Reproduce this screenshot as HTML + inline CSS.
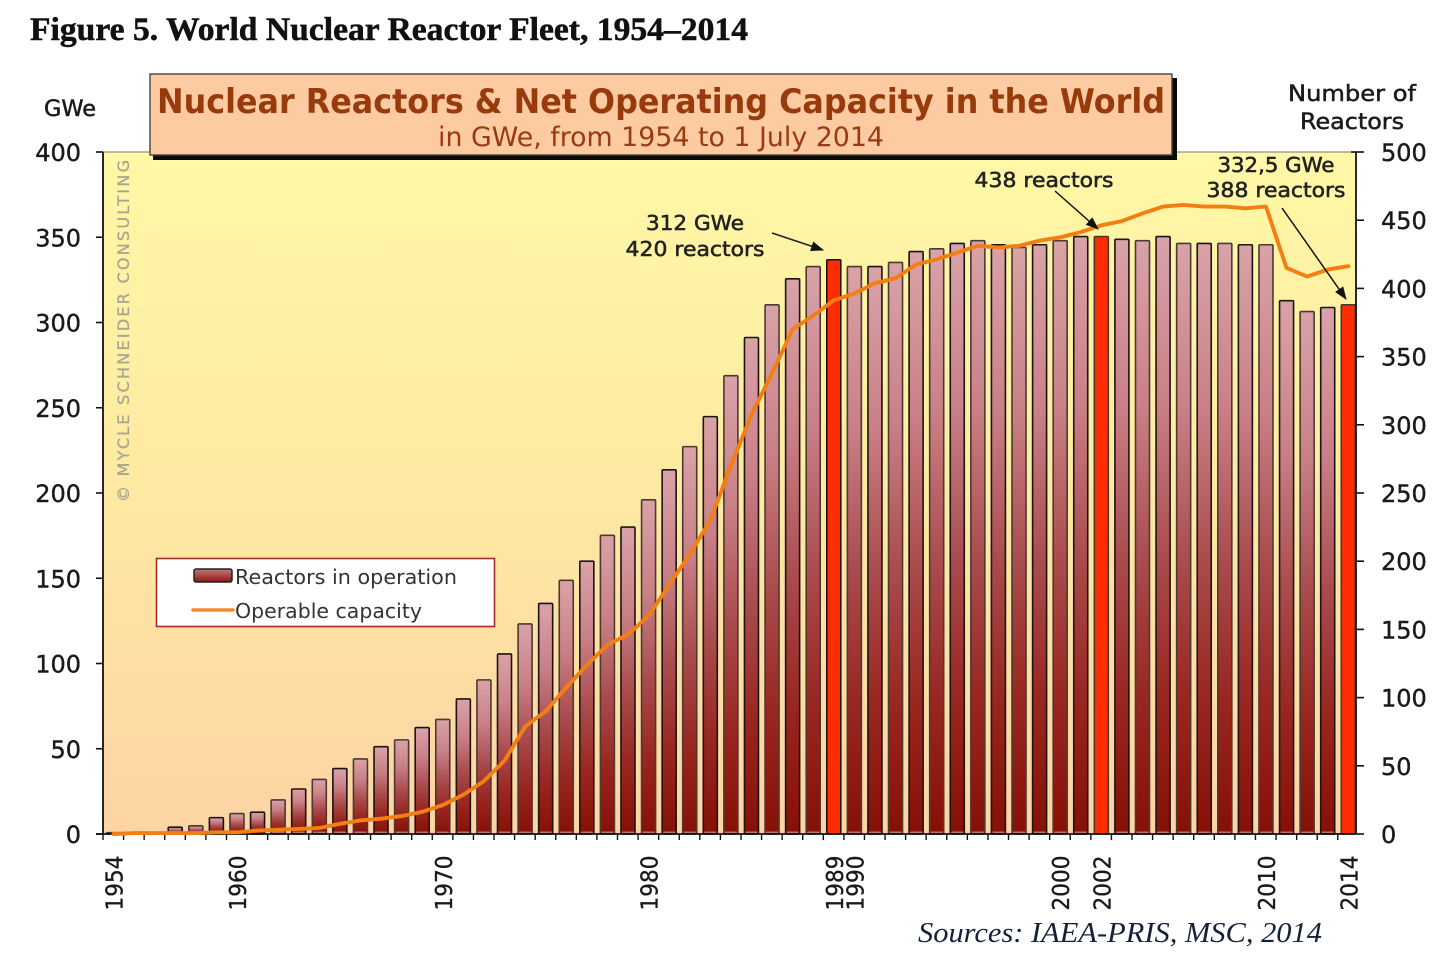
<!DOCTYPE html>
<html>
<head>
<meta charset="utf-8">
<title>World Nuclear Reactor Fleet, 1954–2014</title>
<style>
html,body{margin:0;padding:0;background:#fff;}
svg{display:block;}
text{font-family:"DejaVu Sans","Liberation Sans",sans-serif;fill:#1a1a1a;}
.serif{font-family:"Liberation Serif",serif;}
.note{font-size:20.5px;text-anchor:middle;fill:#222;stroke:#222;stroke-width:0.55px;}
.tick-label{font-size:24px;stroke:#1a1a1a;stroke-width:0.4px;}
.heavy{stroke:#1a1a1a;stroke-width:0.5px;}
</style>
</head>
<body>
<svg id="chart" width="1456" height="954" viewBox="0 0 1456 954" xmlns="http://www.w3.org/2000/svg">
<defs>
<linearGradient id="plotBg" x1="0" y1="0" x2="0" y2="1">
<stop offset="0" stop-color="#FFF8A6"/>
<stop offset="0.45" stop-color="#FEEBA2"/>
<stop offset="1" stop-color="#FDD3A4"/>
</linearGradient>
<linearGradient id="barFill" x1="0" y1="0" x2="0" y2="1">
<stop offset="0" stop-color="#D9A3A8"/>
<stop offset="0.28" stop-color="#C98087"/>
<stop offset="0.54" stop-color="#A94B4D"/>
<stop offset="0.77" stop-color="#992620"/>
<stop offset="1" stop-color="#871005"/>
</linearGradient>
<linearGradient id="swatchFill" x1="0" y1="0" x2="0" y2="1">
<stop offset="0" stop-color="#C4777A"/>
<stop offset="1" stop-color="#8A1A12"/>
</linearGradient>
<marker id="arrowHead" markerWidth="14" markerHeight="12" refX="12" refY="5" orient="auto" markerUnits="userSpaceOnUse">
<path d="M0,0 L13,5 L0,10 Z" fill="#111"/>
</marker>
</defs>

<text class="serif" x="30" y="40" font-size="32.5" font-weight="bold" style="fill:#111;stroke:#111;stroke-width:0.5px" textLength="718" lengthAdjust="spacingAndGlyphs">Figure 5. World Nuclear Reactor Fleet, 1954–2014</text>

<rect x="103" y="152" width="1253" height="682" fill="url(#plotBg)"/>
<line x1="103" y1="152" x2="1356" y2="152" stroke="#777" stroke-width="1"/>
<text transform="translate(129,502) rotate(-90)" font-size="16" style="fill:#a8a590;stroke:#a8a590;stroke-width:0.3px" textLength="342" lengthAdjust="spacing">© MYCLE SCHNEIDER CONSULTING</text>

<g id="bars"></g>
<g id="axes"></g>
<g id="lineLayer"></g>

<g>
<rect x="153" y="78" width="1024" height="82" fill="#0a0a0a"/>
<rect x="150" y="74" width="1022" height="81" fill="#FDCBA1" stroke="#444" stroke-width="1.4"/>
<text x="157" y="113" font-size="34" font-weight="bold" style="fill:#983A0C" textLength="1008" lengthAdjust="spacingAndGlyphs">Nuclear Reactors &amp; Net Operating Capacity in the World</text>
<text x="438" y="146" font-size="27" style="fill:#9A3A10" textLength="446" lengthAdjust="spacingAndGlyphs">in GWe, from 1954 to 1 July 2014</text>
</g>

<text class="heavy" x="70" y="116" font-size="22" text-anchor="middle" textLength="52" lengthAdjust="spacingAndGlyphs">GWe</text>
<text class="heavy" x="1352" y="101" font-size="22" text-anchor="middle" textLength="128" lengthAdjust="spacingAndGlyphs">Number of</text>
<text class="heavy" x="1352" y="129" font-size="22" text-anchor="middle" textLength="104" lengthAdjust="spacingAndGlyphs">Reactors</text>

<g>
<rect x="156.5" y="558.5" width="338" height="68" fill="#fff" stroke="#A52A2A" stroke-width="1.6"/>
<rect x="194" y="569" width="38" height="13" rx="2" fill="url(#swatchFill)" stroke="#222" stroke-width="1.5"/>
<text x="235" y="584" font-size="20.5" style="fill:#333" textLength="222" lengthAdjust="spacingAndGlyphs">Reactors in operation</text>
<line x1="193" y1="610" x2="233" y2="610" stroke="#F58A30" stroke-width="3.5" stroke-linecap="round"/>
<text x="235" y="618" font-size="20.5" style="fill:#333" textLength="187" lengthAdjust="spacingAndGlyphs">Operable capacity</text>
</g>

<g>
<text class="note" x="695" y="230" textLength="98" lengthAdjust="spacingAndGlyphs">312 GWe</text>
<text class="note" x="695" y="256" textLength="139" lengthAdjust="spacingAndGlyphs">420 reactors</text>
<line x1="772" y1="233" x2="823" y2="250" stroke="#222" stroke-width="1.5" marker-end="url(#arrowHead)"/>
<text class="note" x="1044" y="187" textLength="139" lengthAdjust="spacingAndGlyphs">438 reactors</text>
<line x1="1055" y1="191" x2="1098" y2="229" stroke="#111" stroke-width="1.5" marker-end="url(#arrowHead)"/>
<text class="note" x="1276" y="172" textLength="117" lengthAdjust="spacingAndGlyphs">332,5 GWe</text>
<text class="note" x="1276" y="197" textLength="139" lengthAdjust="spacingAndGlyphs">388 reactors</text>
<line x1="1282" y1="208" x2="1346" y2="299" stroke="#111" stroke-width="1.5" marker-end="url(#arrowHead)"/>
</g>

<text class="serif" x="918" y="942" font-size="29" font-style="italic" style="fill:#14213a" textLength="404" lengthAdjust="spacingAndGlyphs">Sources: IAEA-PRIS, MSC, 2014</text>

<script>
const startYear = 1954;
const reactors = [1,1,1,5,6,12,15,16,25,33,40,48,55,64,69,78,84,99,113,132,154,169,186,200,219,225,245,267,284,306,336,364,388,407,416,421,416,416,419,427,429,433,435,432,430,432,435,438,438,436,435,438,433,433,433,432,432,391,383,386,388];
const capacity = [0,0.5,0.5,0.5,0.5,1,1,2,2.5,3,3.5,6,8,9,10.5,13,17,23,31,43,63,72,86,99,111,117,128,146,164,184,216,246,270,296,304,313,317,323,326,334,337,341,345,344,345,348,350,353,357,359.5,364,368,369,368,368,367,368,332,327,331,333];
const highlightYears = [1989,2002,2014];
const labeledYears = [1954,1960,1970,1980,1989,1990,2000,2002,2010,2014];
const gweTicks = [0,50,100,150,200,250,300,350,400];
const reactorTicks = [0,50,100,150,200,250,300,350,400,450,500];

const NS = 'http://www.w3.org/2000/svg';
const plotLeft = 103, plotRight = 1356, plotTop = 152, plotBottom = 834;
const gweMax = 400, reactorMax = 500;
const step = 20.58;

function xBand(i){ return plotLeft + step * i; }
function xCenter(i){ return xBand(i) + step / 2 + 0.2; }
function yGwe(v){ return plotBottom - v / gweMax * (plotBottom - plotTop); }
function yReactors(v){ return plotBottom - v / reactorMax * (plotBottom - plotTop); }
function mk(tag, attrs, parent){
  const el = document.createElementNS(NS, tag);
  for (const k in attrs) el.setAttribute(k, attrs[k]);
  parent.appendChild(el);
  return el;
}

const barsG = document.getElementById('bars');
const axesG = document.getElementById('axes');
const lineG = document.getElementById('lineLayer');

reactors.forEach(function(v, i){
  const year = startYear + i;
  const top = yReactors(v);
  const hi = highlightYears.indexOf(year) >= 0;
  const bar = mk('rect', {x: xCenter(i) - 7, y: top, width: 14, height: plotBottom - top, rx: 1, fill: hi ? '#FF2C00' : 'url(#barFill)', stroke: i % 2 ? '#1c1412' : '#4a3a32', 'stroke-width': 1.6}, barsG);
  
  
  if (!hi && v > 20) {
    const foot = mk('line', {x1: xCenter(i) - 6, y1: plotBottom - 1.8, x2: xCenter(i) + 6, y2: plotBottom - 1.8, stroke: '#E8B4A8', 'stroke-width': 1.1, opacity: 0.8}, barsG);
    
    
  }
});

const leftAxis = mk('line', {x1: plotLeft, y1: plotTop, x2: plotLeft, y2: plotBottom, stroke: '#111', 'stroke-width': 1.8}, axesG);


const rightAxis = mk('line', {x1: plotRight, y1: plotTop, x2: plotRight, y2: plotBottom, stroke: '#111', 'stroke-width': 1.8}, axesG);


const bottomAxis = mk('line', {x1: plotLeft - 7, y1: plotBottom, x2: plotRight, y2: plotBottom, stroke: '#111', 'stroke-width': 1.8}, axesG);



gweTicks.forEach(function(v){
  const y = yGwe(v);
  const t = mk('line', {x1: plotLeft - 7, y1: y, x2: plotLeft, y2: y, stroke: '#111', 'stroke-width': 1.6}, axesG);
  
  
  const l = mk('text', {x: 81, y: y + 9, 'text-anchor': 'end', 'class': 'tick-label'}, axesG);
  
  
  l.textContent = v;
});

reactorTicks.forEach(function(v){
  const y = yReactors(v);
  const t = mk('line', {x1: v === reactorMax ? plotRight - 5 : plotRight, y1: y, x2: plotRight + 8, y2: y, stroke: '#111', 'stroke-width': 1.6}, axesG);
  
  
  const l = mk('text', {x: 1381, y: y + 9, 'class': 'tick-label'}, axesG);
  
  
  l.textContent = v;
});

for (let i = 0; i <= reactors.length - 1; i++) {
  const x = xBand(i);
  const t = mk('line', {x1: x, y1: plotBottom, x2: x, y2: plotBottom + 6, stroke: '#111', 'stroke-width': 1.4}, axesG);
  
  
}

labeledYears.forEach(function(year){
  const i = year - startYear;
  const x = xCenter(i) + 9;
  const l = mk('text', {transform: 'translate(' + x + ',910.5) rotate(-90)', 'font-size': 23, textLength: 55, lengthAdjust: 'spacingAndGlyphs', stroke: '#1a1a1a', 'stroke-width': 0.35}, axesG);
  
  
  l.textContent = year;
});

const pts = capacity.map(function(v, i){ return xCenter(i).toFixed(1) + ',' + yGwe(v).toFixed(1); }).join(' ');
const capLine = mk('polyline', {points: pts, fill: 'none', stroke: '#F37F12', 'stroke-width': 3.9, 'stroke-linejoin': 'round', 'stroke-linecap': 'round'}, lineG);


</script>
</svg>
</body>
</html>
